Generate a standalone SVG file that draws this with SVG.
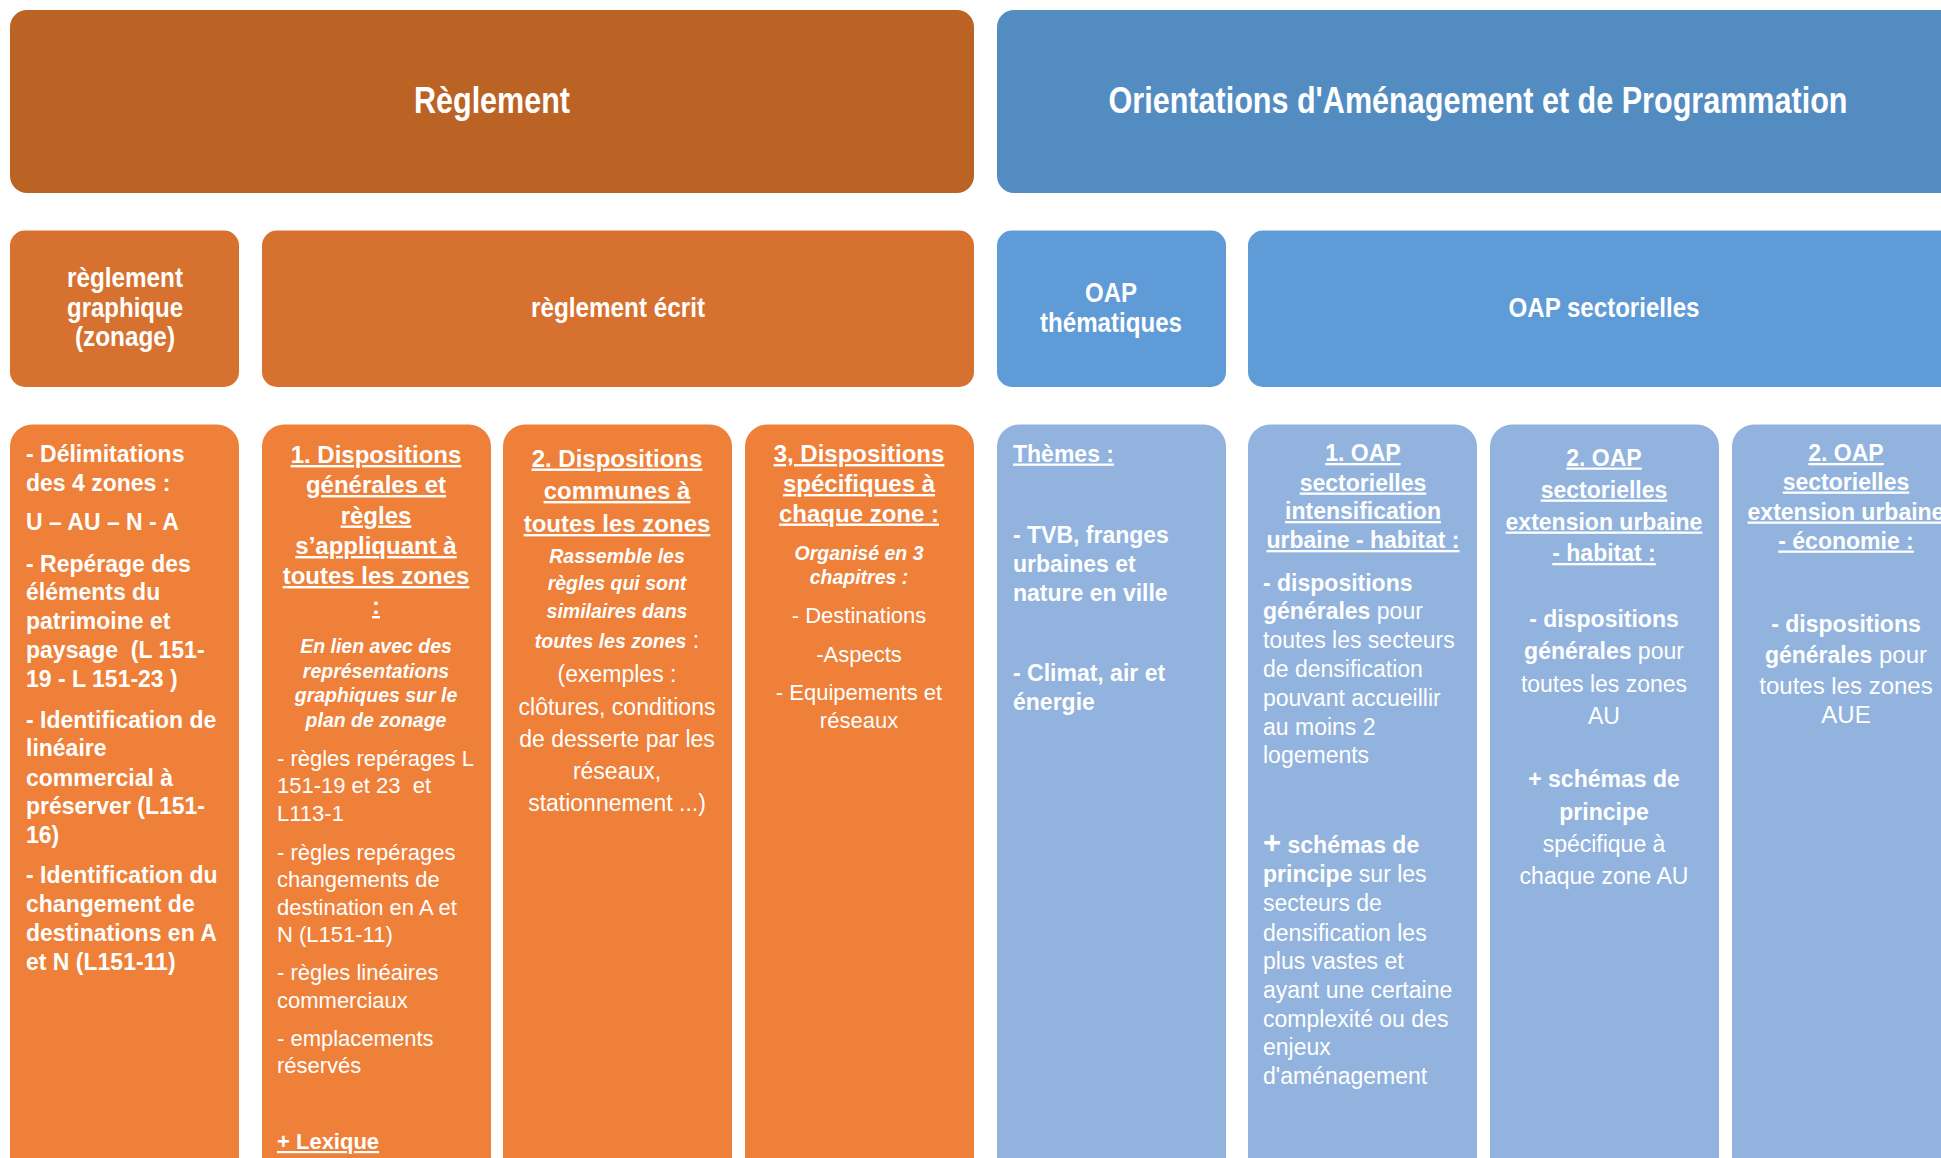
<svg xmlns="http://www.w3.org/2000/svg" width="1941" height="1158" viewBox="0 0 1941 1158">
  <style>
    .hdr { font-family: "Liberation Sans Narrow", "Arial Narrow", "Liberation Sans", Arial, sans-serif; font-weight: bold; fill: #ffffff; text-anchor: middle; }
    .t { font-family: "Liberation Sans", Arial, sans-serif; fill: #ffffff; }
    .c { text-anchor: middle; }
    .b { font-weight: bold; }
    .i { font-weight: bold; font-style: italic; font-size: 19.5px; }
    .u { text-decoration: underline; }
    .r { font-weight: normal; font-style: normal; }
    .top-or { fill: #BB6225; }
    .mid-or { fill: #D77130; }
    .low-or { fill: #EE8039; }
    .top-bl { fill: #538CC1; }
    .mid-bl { fill: #5F9BD6; }
    .low-bl { fill: #91B3DE; }
  </style>

  <rect width="1941" height="1158" fill="#ffffff"/>

  <!-- Level 1 -->
  <g id="reglement">
    <rect class="top-or" x="10" y="10" width="964" height="183" rx="17"/>
    <text class="hdr" x="492" y="113" font-size="37" textLength="156" lengthAdjust="spacingAndGlyphs">Règlement</text>
  </g>
  <g id="oap">
    <rect class="top-bl" x="997" y="10" width="980" height="183" rx="17"/>
    <text class="hdr" x="1478" y="113" font-size="37" textLength="739" lengthAdjust="spacingAndGlyphs">Orientations d'Aménagement et de Programmation</text>
  </g>

  <!-- Level 2 -->
  <g id="reglement-graphique">
    <rect class="mid-or" x="10" y="230.5" width="229" height="156.5" rx="15"/>
    <text class="hdr" x="125" y="287" font-size="27" textLength="116" lengthAdjust="spacingAndGlyphs">règlement</text>
    <text class="hdr" x="125" y="316.5" font-size="27" textLength="116" lengthAdjust="spacingAndGlyphs">graphique</text>
    <text class="hdr" x="125" y="346" font-size="27" textLength="100" lengthAdjust="spacingAndGlyphs">(zonage)</text>
  </g>
  <g id="reglement-ecrit">
    <rect class="mid-or" x="262" y="230.5" width="712" height="156.5" rx="15"/>
    <text class="hdr" x="618" y="316.5" font-size="27" textLength="174" lengthAdjust="spacingAndGlyphs">règlement écrit</text>
  </g>
  <g id="oap-thematiques">
    <rect class="mid-bl" x="997" y="230.5" width="229" height="156.5" rx="15"/>
    <text class="hdr" x="1111" y="301.5" font-size="27" textLength="52" lengthAdjust="spacingAndGlyphs">OAP</text>
    <text class="hdr" x="1111" y="331.5" font-size="27" textLength="142" lengthAdjust="spacingAndGlyphs">thématiques</text>
  </g>
  <g id="oap-sectorielles">
    <rect class="mid-bl" x="1248" y="230.5" width="729" height="156.5" rx="15"/>
    <text class="hdr" x="1604" y="316.5" font-size="27" textLength="191" lengthAdjust="spacingAndGlyphs">OAP sectorielles</text>
  </g>

  <!-- Level 3 : zoning plan -->
  <g id="zonage-detail" font-size="23">
    <rect class="low-or" x="10" y="424.5" width="229" height="760" rx="22"/>
    <text class="t b" x="26" y="462">- Délimitations</text>
    <text class="t b" x="26" y="491">des 4 zones :</text>
    <text class="t b" x="26" y="530">U – AU – N - A</text>
    <text class="t b" x="26" y="571.5">- Repérage des</text>
    <text class="t b" x="26" y="600">éléments du</text>
    <text class="t b" x="26" y="629">patrimoine et</text>
    <text class="t b" x="26" y="658" xml:space="preserve">paysage  (L 151-</text>
    <text class="t b" x="26" y="687">19 - L 151-23 )</text>
    <text class="t b" x="26" y="727.5">- Identification de</text>
    <text class="t b" x="26" y="756">linéaire</text>
    <text class="t b" x="26" y="785.5">commercial à</text>
    <text class="t b" x="26" y="814">préserver (L151-</text>
    <text class="t b" x="26" y="842.5">16)</text>
    <text class="t b" x="26" y="883">- Identification du</text>
    <text class="t b" x="26" y="912">changement de</text>
    <text class="t b" x="26" y="940.5">destinations en A</text>
    <text class="t b" x="26" y="970">et N (L151-11)</text>
  </g>

  <!-- Level 3 : written rules, part 1 -->
  <g id="dispositions-generales" font-size="23">
    <rect class="low-or" x="262" y="424.5" width="229" height="760" rx="22"/>
    <g class="t b u c" font-size="24">
      <text x="376" y="463">1. Dispositions</text>
      <text x="376" y="493">générales et</text>
      <text x="376" y="523.5">règles</text>
      <text x="376" y="554">s’appliquant à</text>
      <text x="376" y="584">toutes les zones</text>
      <text x="376" y="614">:</text>
    </g>
    <g class="t i c">
      <text x="376" y="653">En lien avec des</text>
      <text x="376" y="677.5">représentations</text>
      <text x="376" y="702">graphiques sur le</text>
      <text x="376" y="726.5">plan de zonage</text>
    </g>
    <g class="t" font-size="22">
      <text x="277" y="765.5">- règles repérages L</text>
      <text x="277" y="793" xml:space="preserve">151-19 et 23  et</text>
      <text x="277" y="820.5">L113-1</text>
      <text x="277" y="860">- règles repérages</text>
      <text x="277" y="887">changements de</text>
      <text x="277" y="915">destination en A et</text>
      <text x="277" y="942">N (L151-11)</text>
      <text x="277" y="980">- règles linéaires</text>
      <text x="277" y="1008">commerciaux</text>
      <text x="277" y="1046">- emplacements</text>
      <text x="277" y="1073">réservés</text>
      <text class="b u" x="277" y="1149">+ Lexique</text>
    </g>
  </g>

  <!-- Level 3 : written rules, part 2 -->
  <g id="dispositions-communes" font-size="23">
    <rect class="low-or" x="503" y="424.5" width="229" height="760" rx="22"/>
    <g class="t b u c" font-size="24">
      <text x="617" y="466.5">2. Dispositions</text>
      <text x="617" y="499">communes à</text>
      <text x="617" y="532">toutes les zones</text>
    </g>
    <g class="t i c">
      <text x="617" y="562.5">Rassemble les</text>
      <text x="617" y="590">règles qui sont</text>
      <text x="617" y="618">similaires dans</text>
      <text x="617" y="648">toutes les zones<tspan class="r" font-size="23"> :</tspan></text>
    </g>
    <g class="t c">
      <text x="617" y="682">(exemples :</text>
      <text x="617" y="714.5">clôtures, conditions</text>
      <text x="617" y="746.5">de desserte par les</text>
      <text x="617" y="779">réseaux,</text>
      <text x="617" y="811">stationnement ...)</text>
    </g>
  </g>

  <!-- Level 3 : written rules, part 3 -->
  <g id="dispositions-specifiques" font-size="23">
    <rect class="low-or" x="745" y="424.5" width="229" height="760" rx="22"/>
    <g class="t b u c" font-size="24">
      <text x="859" y="462">3, Dispositions</text>
      <text x="859" y="492">spécifiques à</text>
      <text x="859" y="521.5">chaque zone :</text>
    </g>
    <g class="t i c">
      <text x="859" y="560">Organisé en 3</text>
      <text x="859" y="584">chapitres :</text>
    </g>
    <g class="t c" font-size="22">
      <text x="859" y="623">- Destinations</text>
      <text x="859" y="661.5">-Aspects</text>
      <text x="859" y="699.5">- Equipements et</text>
      <text x="859" y="727.5">réseaux</text>
    </g>
  </g>

  <!-- Level 3 : thematic OAP -->
  <g id="themes" font-size="23">
    <rect class="low-bl" x="997" y="424.5" width="229" height="760" rx="22"/>
    <g class="t b">
      <text class="u" x="1013" y="461.5">Thèmes :</text>
      <text x="1013" y="542.5">- TVB, franges</text>
      <text x="1013" y="572">urbaines et</text>
      <text x="1013" y="601">nature en ville</text>
      <text x="1013" y="681">- Climat, air et</text>
      <text x="1013" y="709.5">énergie</text>
    </g>
  </g>

  <!-- Level 3 : sector OAP, urban intensification -->
  <g id="oap-intensification" font-size="23">
    <rect class="low-bl" x="1248" y="424.5" width="229" height="760" rx="22"/>
    <g class="t b u c">
      <text x="1363" y="461">1. OAP</text>
      <text x="1363" y="490.5">sectorielles</text>
      <text x="1363" y="519">intensification</text>
      <text x="1363" y="548">urbaine - habitat :</text>
    </g>
    <g class="t">
      <text class="b" x="1263" y="590.5">- dispositions</text>
      <text x="1263" y="619"><tspan class="b">générales</tspan> pour</text>
      <text x="1263" y="647.5">toutes les secteurs</text>
      <text x="1263" y="677">de densification</text>
      <text x="1263" y="706">pouvant accueillir</text>
      <text x="1263" y="734.5">au moins 2</text>
      <text x="1263" y="763">logements</text>
      <text class="b" x="1263" y="853"><tspan font-size="31">+</tspan> schémas de</text>
      <text x="1263" y="882"><tspan class="b">principe</tspan> sur les</text>
      <text x="1263" y="911">secteurs de</text>
      <text x="1263" y="940.5">densification les</text>
      <text x="1263" y="969">plus vastes et</text>
      <text x="1263" y="998">ayant une certaine</text>
      <text x="1263" y="1026.5">complexité ou des</text>
      <text x="1263" y="1055">enjeux</text>
      <text x="1263" y="1084">d'aménagement</text>
    </g>
  </g>

  <!-- Level 3 : sector OAP, urban extension for housing -->
  <g id="oap-extension-habitat" font-size="23">
    <rect class="low-bl" x="1490" y="424.5" width="229" height="760" rx="22"/>
    <g class="t b u c">
      <text x="1604" y="465.5">2. OAP</text>
      <text x="1604" y="497.5">sectorielles</text>
      <text x="1604" y="529.5">extension urbaine</text>
      <text x="1604" y="561">- habitat :</text>
    </g>
    <g class="t c">
      <text class="b" x="1604" y="627">- dispositions</text>
      <text x="1604" y="659"><tspan class="b">générales</tspan> pour</text>
      <text x="1604" y="691.5">toutes les zones</text>
      <text x="1604" y="723.5">AU</text>
      <text class="b" x="1604" y="787">+ schémas de</text>
      <text class="b" x="1604" y="819.5">principe</text>
      <text x="1604" y="851.5">spécifique à</text>
      <text x="1604" y="884">chaque zone AU</text>
    </g>
  </g>

  <!-- Level 3 : sector OAP, urban extension for economy -->
  <g id="oap-extension-economie" font-size="23">
    <rect class="low-bl" x="1732" y="424.5" width="229" height="760" rx="22"/>
    <g class="t b u c">
      <text x="1846" y="461">2. OAP</text>
      <text x="1846" y="489.5">sectorielles</text>
      <text x="1846" y="519.5">extension urbaine</text>
      <text x="1846" y="548.5">- économie :</text>
    </g>
    <g class="t c" font-size="24">
      <text class="b" x="1846" y="632" font-size="23">- dispositions</text>
      <text x="1846" y="663"><tspan class="b" font-size="23">générales</tspan> pour</text>
      <text x="1846" y="694">toutes les zones</text>
      <text x="1846" y="722.5">AUE</text>
    </g>
  </g>
</svg>
